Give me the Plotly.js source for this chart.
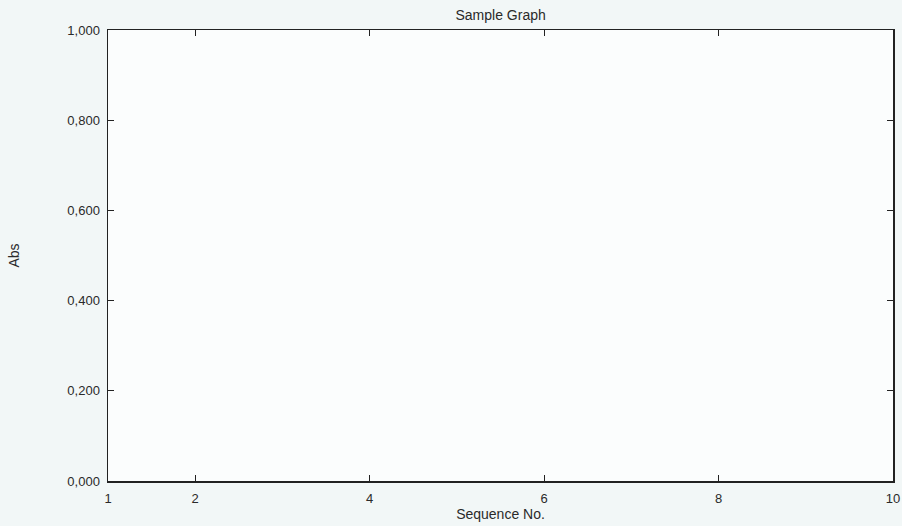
<!DOCTYPE html>
<html>
<head>
<meta charset="utf-8">
<script src="https://cdn.plot.ly/plotly-3.0.1.min.js"></script>
<style>html,body{margin:0;padding:0;background:#f2f7f7;}#chart{width:902px;height:526px;}</style>
</head>
<body>
<div id="chart"></div>
<script>
const xTickVals = [1, 2, 4, 6, 8, 10];
const xTickText = ["1", "2", "4", "6", "8", "10"];
const yTickVals = [0, 0.2, 0.4, 0.6, 0.8, 1.0];
const yTickText = ["0,000", "0,200", "0,400", "0,600", "0,800", "1,000"];
const seriesX = [];
const seriesY = [];

const font = {family: "Liberation Sans, Arial, sans-serif", size: 13, color: "#2a2a2a"};
const titleFont = {family: "Liberation Sans, Arial, sans-serif", size: 14, color: "#2a2a2a"};

Plotly.newPlot("chart", [{
  x: seriesX, y: seriesY, type: "scatter", mode: "lines",
  line: {color: "#1f3fbf"}, showlegend: false
}], {
  width: 902, height: 526,
  paper_bgcolor: "#f2f7f7", plot_bgcolor: "#fbfdfd",
  font: font,
  margin: {l: 108, r: 9, t: 30, b: 45},
  title: {text: "Sample Graph", font: titleFont, x: 0.555, xanchor: "center", y: 0.972, yanchor: "middle"},
  xaxis: {
    range: [1, 10], tickvals: xTickVals, ticktext: xTickText,
    ticks: "inside", ticklen: 6, tickwidth: 1.2, tickcolor: "#222",
    showline: true, linecolor: "#222", linewidth: 1.5, mirror: "ticks",
    showgrid: false, zeroline: false, fixedrange: true,
    ticklabelstandoff: 5,
    title: {text: "Sequence No.", font: titleFont, standoff: 0}
  },
  yaxis: {
    range: [0, 1], tickvals: yTickVals, ticktext: yTickText,
    ticks: "inside", ticklen: 6, tickwidth: 1.2, tickcolor: "#222",
    showline: true, linecolor: "#222", linewidth: 1.5, mirror: "ticks",
    showgrid: false, zeroline: false, fixedrange: true,
    ticklabelstandoff: 4,
    title: {text: "Abs", font: titleFont, standoff: 44}
  }
}, {displayModeBar: false, staticPlot: true});
</script>
</body>
</html>
